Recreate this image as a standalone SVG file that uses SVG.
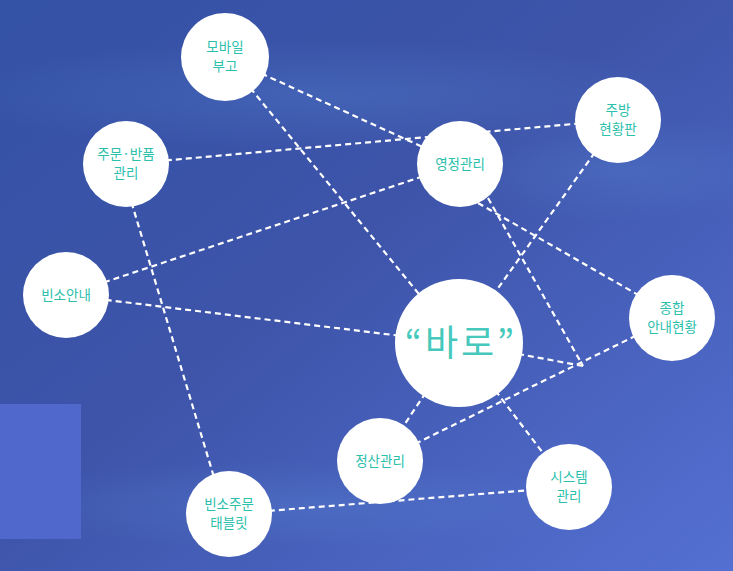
<svg xmlns="http://www.w3.org/2000/svg" width="733" height="571" viewBox="0 0 733 571">
<defs>
<linearGradient id="bg" x1="0" y1="0" x2="1" y2="1">
<stop offset="0" stop-color="#3452a6"/>
<stop offset="0.45" stop-color="#3d54a9"/>
<stop offset="1" stop-color="#5470d2"/>
</linearGradient>
<radialGradient id="glow" cx="0.5" cy="0.5" r="0.5">
<stop offset="0" stop-color="#5a8ad8" stop-opacity="0.28"/>
<stop offset="1" stop-color="#5a8ad8" stop-opacity="0"/>
</radialGradient>
<style>
.node circle{fill:#ffffff;}
.node text{font-family:"Noto Sans CJK KR","Noto Sans",sans-serif;font-size:13.5px;fill:#2bc0ac;text-anchor:middle;}
.conn line{stroke:#ffffff;stroke-width:2.2;stroke-dasharray:6 4;fill:none;}
</style>
</defs>
<rect x="0" y="0" width="733" height="571" fill="url(#bg)"/>
<ellipse cx="330" cy="95" rx="380" ry="55" fill="url(#glow)"/>
<ellipse cx="620" cy="170" rx="180" ry="55" fill="url(#glow)"/>
<ellipse cx="300" cy="505" rx="330" ry="45" fill="url(#glow)"/>
<rect x="0" y="404" width="81" height="135" fill="#5068cb"/>
<g class="conn" id="connectors">
<line x1="225" y1="57" x2="460" y2="164"/>
<line x1="225" y1="57" x2="459" y2="343"/>
<line x1="126" y1="164" x2="618" y2="120"/>
<line x1="120" y1="164" x2="225" y2="514"/>
<line x1="66" y1="295" x2="460" y2="164"/>
<line x1="66" y1="295" x2="459" y2="343"/>
<line x1="478" y1="203" x2="640" y2="296"/>
<line x1="488" y1="198" x2="583" y2="366"/>
<line x1="459" y1="343" x2="583" y2="366"/>
<line x1="672" y1="318" x2="380" y2="461"/>
<line x1="618" y1="120" x2="459" y2="343"/>
<line x1="459" y1="343" x2="380" y2="461"/>
<line x1="459" y1="343" x2="569" y2="487"/>
<line x1="229" y1="514" x2="569" y2="487"/>
</g>
<g class="node" id="n-mobile"><circle cx="225" cy="57" r="44"/><text x="225" y="52">모바일</text><text x="225" y="71">부고</text></g>
<g class="node" id="n-order"><circle cx="126" cy="164" r="43"/><text x="126" y="159">주문·반품</text><text x="126" y="178">관리</text></g>
<g class="node" id="n-portrait"><circle cx="460" cy="164" r="43"/><text x="460" y="169">영정관리</text></g>
<g class="node" id="n-kitchen"><circle cx="618" cy="120" r="43"/><text x="618" y="115">주방</text><text x="618" y="134">현황판</text></g>
<g class="node" id="n-guide"><circle cx="66" cy="295" r="43"/><text x="66" y="300">빈소안내</text></g>
<g class="node" id="n-status"><circle cx="672" cy="318" r="43"/><text x="672" y="313">종합</text><text x="672" y="332">안내현황</text></g>
<g class="node" id="n-baro"><circle cx="459" cy="343" r="64"/><text x="461" y="356" style="font-size:36px;letter-spacing:3px;fill:#46c9bc">“바로”</text></g>
<g class="node" id="n-settle"><circle cx="380" cy="461" r="43"/><text x="380" y="466">정산관리</text></g>
<g class="node" id="n-system"><circle cx="569" cy="487" r="43"/><text x="569" y="482">시스템</text><text x="569" y="501">관리</text></g>
<g class="node" id="n-tablet"><circle cx="229" cy="514" r="43"/><text x="229" y="509">빈소주문</text><text x="229" y="528">태블릿</text></g>
</svg>
